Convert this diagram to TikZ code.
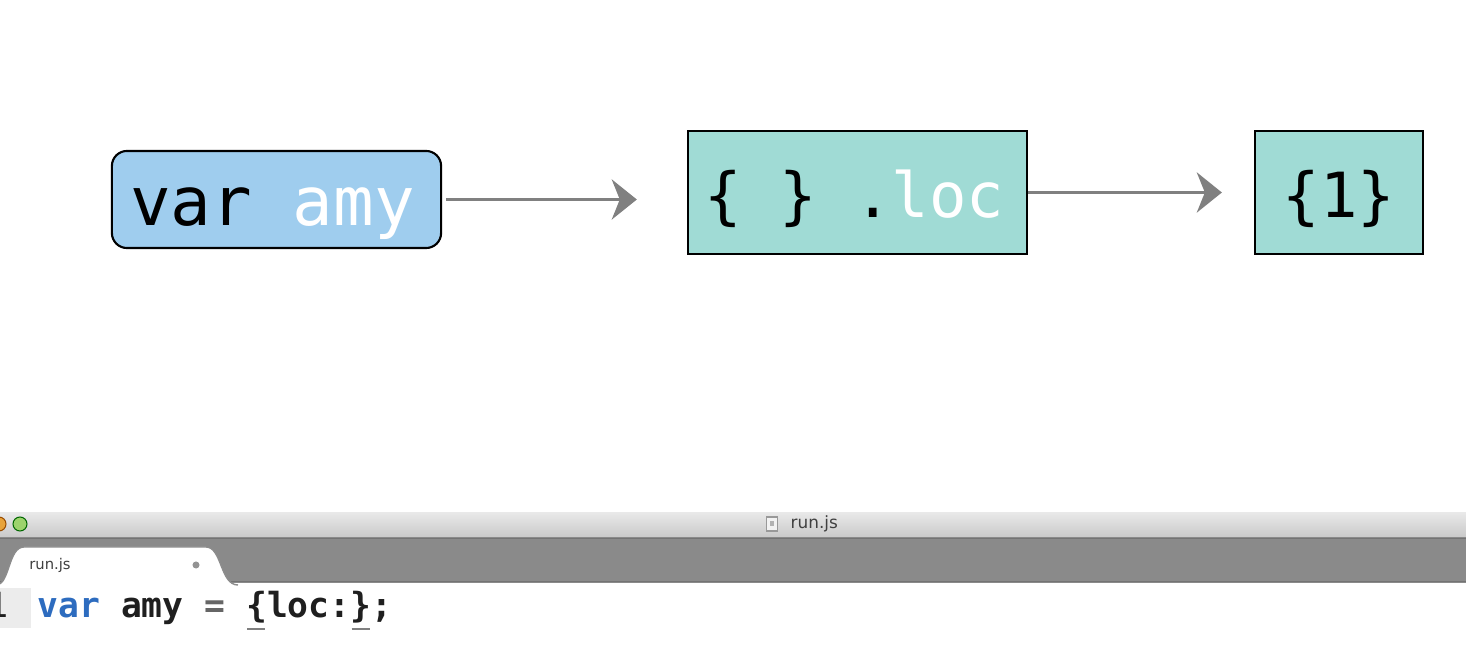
\documentclass[tikz,border=0pt]{standalone}
\usepackage{fontspec}
\setmonofont{DejaVu Sans Mono}
\setsansfont{DejaVu Sans}
\usepackage{tikz}
\usetikzlibrary{arrows.meta,positioning}

\definecolor{varblue}{HTML}{9FCDEE}
\definecolor{objteal}{HTML}{A0DBD5}
\definecolor{arrowgray}{HTML}{808080}
\definecolor{keyblue}{HTML}{2D6CBF}
\definecolor{bargray}{HTML}{8A8A8A}
\definecolor{lightgreen}{HTML}{9CD36C}
\definecolor{lightorange}{HTML}{E8A33A}

\newcommand{\bracemark}[1]{\makebox[0pt][l]{\hspace{0.01cm}\textcolor{gray}{\rule[-0.12cm]{0.18cm}{0.022cm}}}#1}

\begin{document}
\begin{tikzpicture}[x=0.01cm,y=-0.01cm,
  varbox/.style={draw=black,line width=0.6pt,fill=varblue,rounded corners=0.15cm,minimum width=3.29cm,minimum height=0.97cm,font=\ttfamily\fontsize{19.2}{23}\selectfont,text height=15pt,text depth=0pt},
  objbox/.style={draw=black,line width=0.6pt,fill=objteal,minimum height=1.23cm,font=\ttfamily\fontsize{17.7}{21}\selectfont,text height=14pt,text depth=0pt},
  refarrow/.style={arrowgray,line width=1.05pt,-{Stealth[length=0.25cm,width=0.40cm,inset=0.08cm]}},
  tablabel/.style={font=\sffamily\fontsize{4.2}{5}\selectfont,text=black!75,inner sep=0pt},
  codeline/.style={font=\ttfamily\bfseries\fontsize{9.85}{12}\selectfont,text=black!88,inner sep=0pt},
  light/.style={circle,line width=0.3pt,minimum size=0.14cm,inner sep=0pt}]
\fill[white] (0,0) rectangle (1466,652);
\useasboundingbox (0,0) rectangle (1466,652);

% Boxes
\node[varbox] (amy) at (276.5,199.5) {var {\color{white}amy}\kern0.08cm};
\node[objbox,minimum width=3.39cm] (loc) at (857.5,192.5) {\{ \} .{\color{white}loc}\kern0.06cm};
\node[objbox,minimum width=1.68cm] (one) at (1339,192.5) {\{1\}};

% References
\draw[refarrow,shorten <=0.04cm,shorten >=0.5cm] (amy.east) -- (amy.east -| loc.west);
\draw[refarrow,shorten >=0.32cm] (loc.east) -- (one.west);

% Title bar
\shade[top color=gray!18,bottom color=gray!42] (0,513) rectangle (1466,537);
\node[light,draw=orange!60!black,fill=lightorange] (shrink) at (-1,524) {};
\node[light,draw=green!40!black,fill=lightgreen] (grow) at (20,524) {};
\node[draw=gray!80,fill=gray!10,line width=0.3pt,minimum width=0.11cm,minimum height=0.14cm,inner sep=0pt] (icon) at (772,524) {};
\fill[gray!60] (770,521) rectangle (774,526);
\node[tablabel,font=\sffamily\fontsize{4.8}{6}\selectfont,right=0.12cm of icon] (title) {run.js};

% Tab bar
\fill[bargray] (0,537) rectangle (1466,583);
\draw[black!55,line width=0.55pt] (0,538.5) -- (1466,538.5);
\draw[black!55,line width=0.55pt] (0,581.5) -- (1466,581.5);
\filldraw[fill=white,draw=black!45,line width=0.4pt] (-4,585) .. controls (10,585) and (8,547) .. (24,547) -- (206,547) .. controls (222,547) and (220,585) .. (238,585);
\node[tablabel] (tabname) at (50,565) {run.js};
\node[circle,fill=gray!85,minimum size=0.07cm,inner sep=0pt] (dirty) at (196,565) {};

% Code
\fill[gray!15] (0,588) rectangle (31,628);
\node[codeline,font=\ttfamily\fontsize{9.85}{12}\selectfont,anchor=base east] (lineno) at (9,618) {1};
\node[codeline,anchor=base west] (code) at (37,618) {\textcolor{keyblue}{var} amy {\color{black!60}=} \bracemark{\{}loc:\bracemark{\}};};
\end{tikzpicture}
\end{document}
